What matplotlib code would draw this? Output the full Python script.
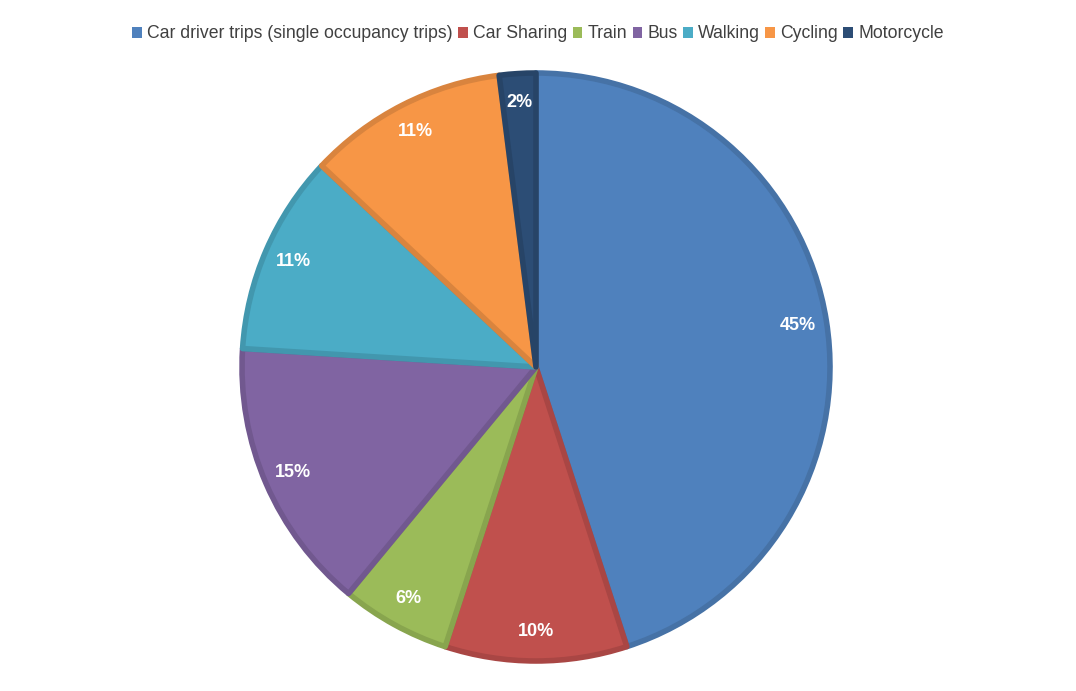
import matplotlib
matplotlib.use("Agg")
import matplotlib.pyplot as plt
from matplotlib.colors import to_rgb

plt.rcParams['font.family'] = ['Liberation Sans', 'DejaVu Sans']

categories = ["Car driver trips (single occupancy trips)", "Car Sharing", "Train",
              "Bus", "Walking", "Cycling", "Motorcycle"]
shares = [45, 10, 6, 15, 11, 11, 2]
colors = ["#4F81BD", "#C0504D", "#9BBB59", "#8064A2", "#4BACC6", "#F79646", "#2C4D75"]


def darker(c, f=0.88):
    r, g, b = to_rgb(c)
    return (r * f, g * f, b * f)


W, H = 1076, 691
fig = plt.figure(figsize=(W / 100, H / 100), dpi=100)
cx, cy, rad = 536, 367, 294
ax = fig.add_axes([(cx - rad) / W, (H - cy - rad) / H, 2 * rad / W, 2 * rad / H])

wedges, texts, autotexts = ax.pie(
    shares, colors=colors, startangle=90, counterclock=False, radius=1,
    autopct="%d%%", pctdistance=0.9,
    textprops=dict(color="white", fontsize=13, fontweight="bold"),
)
for w, c in zip(wedges, colors):
    w.set_edgecolor(darker(c))
    w.set_linewidth(4)
    w.set_joinstyle("round")
ax.set_xlim(-1, 1)
ax.set_ylim(-1, 1)
ax.set_aspect("equal")
ax.axis("off")

leg = fig.legend(wedges, categories, loc="center", bbox_to_anchor=(538 / W, 1 - 34 / H),
                 ncol=7, frameon=False, fontsize=12.7, handlelength=0.55, handleheight=0.55,
                 handletextpad=0.3, columnspacing=0.3, labelcolor="#404040")
for h in leg.legend_handles:
    h.set_linewidth(0)

fig.savefig("out.png", dpi=100)
